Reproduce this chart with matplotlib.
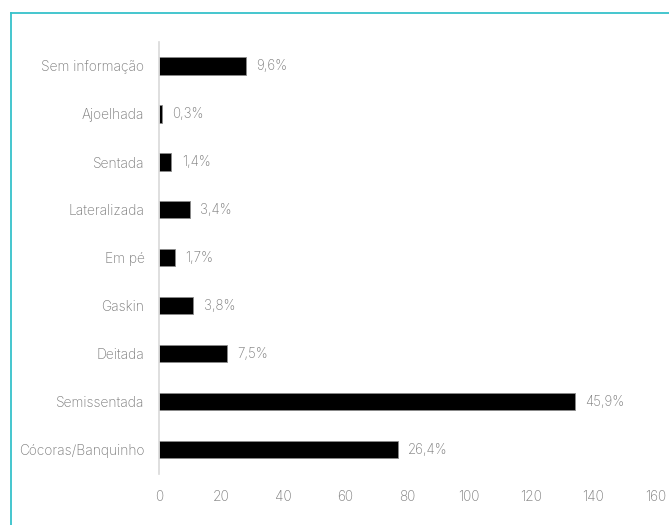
import matplotlib
matplotlib.use("Agg")
import matplotlib.pyplot as plt
from matplotlib.lines import Line2D

# Dados (de baixo para cima)
categorias = ["Cócoras/Banquinho", "Semissentada", "Deitada", "Gaskin", "Em pé",
              "Lateralizada", "Sentada", "Ajoelhada", "Sem informação"]
valores = [77, 134, 22, 11, 5, 10, 4, 1, 28]
rotulos = ["26,4%", "45,9%", "7,5%", "3,8%", "1,7%", "3,4%", "1,4%", "0,3%", "9,6%"]
xticks = [0, 20, 40, 60, 80, 100, 120, 140, 160]

plt.rcParams['font.family'] = ['Inter', 'DejaVu Sans']
plt.rcParams['font.weight'] = 'light'
cinza = '#7a7a7a'

fig = plt.figure(figsize=(6.69, 5.25), dpi=100)
ax = fig.add_axes([0.2377, 0.098, 0.742, 0.822])

y = range(len(categorias))
ax.barh(y, valores, height=0.36, color='black', edgecolor='#8a8a8a', linewidth=0.6)

for yi, v, r in zip(y, valores, rotulos):
    ax.annotate(r, (v, yi), xytext=(7.5, 0), textcoords='offset points',
                va='center', ha='left', fontsize=9.6, color=cinza, fontweight='light')

ax.set_xlim(0, 160)
ax.set_ylim(-0.5, len(categorias) - 0.5)
ax.set_yticks(list(y))
ax.set_yticklabels(categorias, fontsize=9.9, color=cinza, fontweight='light')
ax.set_xticks(xticks)
ax.set_xticklabels([str(t) for t in xticks], fontsize=9.9, color=cinza, fontweight='light')
ax.tick_params(axis='both', length=0)
ax.tick_params(axis='y', pad=10.5)
ax.tick_params(axis='x', pad=11.5)

for s in ['top', 'right', 'bottom']:
    ax.spines[s].set_visible(False)
ax.spines['left'].set_color('#d9d9d9')
ax.spines['left'].set_linewidth(1.2)

# Moldura turquesa (cortada à direita e embaixo)
W, H = 669, 525
teal = '#36c2ca'
fig.add_artist(Line2D([11 / W, 1], [1 - 12.5 / H, 1 - 12.5 / H], color=teal, lw=1.3,
                      transform=fig.transFigure))
fig.add_artist(Line2D([11 / W, 11 / W], [0, 1 - 12.5 / H], color=teal, lw=1.3,
                      transform=fig.transFigure))

fig.savefig("out.png", dpi=100)
